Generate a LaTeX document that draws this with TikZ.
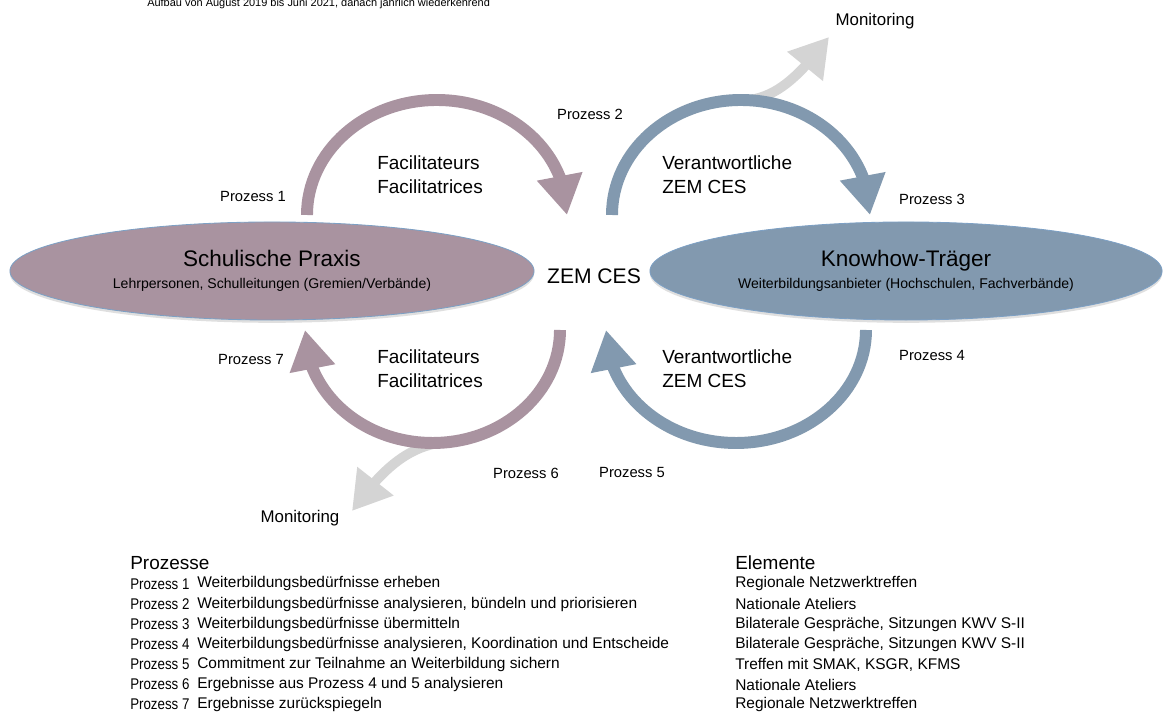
\documentclass[tikz,border=0pt]{standalone}
\usepackage{fontspec}
\setmainfont{Liberation Sans}
\usetikzlibrary{shapes.geometric, arrows.meta, bending, shadows}

\definecolor{praxis}{RGB}{169,147,160}
\definecolor{traeger}{RGB}{130,153,175}
\definecolor{monitor}{RGB}{212,212,212}
\definecolor{rand}{RGB}{125,160,196}

\begin{document}
\begin{tikzpicture}[
        x=0.025cm, y=0.025cm,
        pol/.style={
            % The shape:
            ellipse,
            % The size:
            minimum width=#1,
            minimum height=2.45cm,
            inner sep=0pt,
            % The border
            draw=rand,
            line width=.6pt,
            % Shadow
            drop shadow={opacity=.25, shadow xshift=0pt, shadow yshift=-2pt},
            % Font
            align=center,
            font=\fontsize{16}{19}\selectfont
        },
        bogen/.style={
            draw=#1,
            line width=8.5pt,
            -{Triangle[length=28pt, width=31pt]}
        },
        monitorpfeil/.style={
            draw=monitor,
            line width=7pt,
            -{Triangle[length=27pt, width=31pt]}
        },
        lbl/.style={inner sep=0pt, font=\fontsize{10.5}{12}\selectfont},
        rolle/.style={inner sep=0pt, anchor=west, align=left,
            font=\fontsize{13.5}{17}\selectfont},
        legende/.style={inner sep=0pt, anchor=west, font=\fontsize{11}{13}\selectfont},
        kopf/.style={inner sep=0pt, anchor=west, font=\fontsize{13.5}{16}\selectfont}
    ]

    \path[use as bounding box, fill=white] (0,0) rectangle (1164,714);

    \node[inner sep=0pt, anchor=base west, font=\fontsize{7.8}{9}\selectfont] (titel)
        at (147,707) {Aufbau von August 2019 bis Juni 2021, danach jährlich wiederkehrend};

    % the two poles
    \node[pol=13.1cm, fill=praxis] (praxis) at (272,443)
        {Schulische Praxis\\[-3pt]{\fontsize{10}{12}\selectfont Lehrpersonen, Schulleitungen (Gremien/Verbände)}};
    \node[pol=12.8cm, fill=traeger] (traeger) at (906,443)
        {Knowhow-Träger\\[-3pt]{\fontsize{10}{12}\selectfont Weiterbildungsanbieter (Hochschulen, Fachverbände)}};
    \node[inner sep=0pt, font=\fontsize{15}{18}\selectfont] (zem) at (594,438) {ZEM CES};

    % monitoring
    \coordinate (m1) at (736,613);
    \coordinate (m1end) at (829,677);
    \coordinate (m2) at (445,272);
    \coordinate (m2end) at (352,203);
    \draw[monitorpfeil] (m1) .. controls (772,613) and (795,632) .. (m1end);
    \draw[monitorpfeil] (m2) .. controls (408,268) and (382,245) .. (m2end);

    % the four arcs
    \coordinate (b1) at (307,499);
    \coordinate (b2) at (612,499);
    \coordinate (b4) at (866,384);
    \coordinate (b6) at (560,384);
    \draw[bogen=praxis] (b1) arc[start angle=180, end angle=0, x radius=130, y radius=115];
    \draw[bogen=traeger] (b2) arc[start angle=180, end angle=0, x radius=129, y radius=115];
    \draw[bogen=traeger] (b4) arc[start angle=0, end angle=-180, x radius=130, y radius=113];
    \draw[bogen=praxis] (b6) arc[start angle=0, end angle=-180, x radius=127.5, y radius=113];

    % labels
    \node[lbl] (p1) at (253,517) {Prozess 1};
    \node[lbl] (p2) at (590,600) {Prozess 2};
    \node[lbl] (p3) at (932,515) {Prozess 3};
    \node[lbl] (p4) at (932,358) {Prozess 4};
    \node[lbl] (p5) at (632,241) {Prozess 5};
    \node[lbl] (p6) at (526,241) {Prozess 6};
    \node[lbl] (p7) at (251,354) {Prozess 7};
    \node[inner sep=0pt, font=\fontsize{12}{14}\selectfont] (mon1) at (875,693) {Monitoring};
    \node[inner sep=0pt, font=\fontsize{12}{14}\selectfont] (mon2) at (300,196) {Monitoring};

    \node[rolle] (fac1) at (377,539) {Facilitateurs\\Facilitatrices};
    \node[rolle] (fac2) at (377,345) {Facilitateurs\\Facilitatrices};
    \node[rolle] (ver1) at (662,539) {Verantwortliche\\ZEM CES};
    \node[rolle] (ver2) at (662,345) {Verantwortliche\\ZEM CES};

    % legend
    \node[kopf] (prozesse) at (130,151) {Prozesse};
    \node[kopf] (elemente) at (735,151) {Elemente};
    \foreach \i/\ptext/\etext in {
        1/{Weiterbildungsbedürfnisse erheben}/{Regionale Netzwerktreffen},
        2/{Weiterbildungsbedürfnisse analysieren, bündeln und priorisieren}/{Nationale Ateliers},
        3/{Weiterbildungsbedürfnisse übermitteln}/{Bilaterale Gespräche, Sitzungen KWV S-II},
        4/{Weiterbildungsbedürfnisse analysieren, Koordination und Entscheide}/{Bilaterale Gespräche, Sitzungen KWV S-II},
        5/{Commitment zur Teilnahme an Weiterbildung sichern}/{Treffen mit SMAK, KSGR, KFMS},
        6/{Ergebnisse aus Prozess 4 und 5 analysieren}/{Nationale Ateliers},
        7/{Ergebnisse zurückspiegeln}/{Regionale Netzwerktreffen}}
    {
        \pgfmathsetmacro\yy{130-20.1*(\i-1)}
        \node[legende] (lp\i) at (130,\yy) {\scalebox{.86}[1]{Prozess \i}};
        \node[legende] (lt\i) at (197,\yy) {\ptext};
        \node[legende] (le\i) at (735,\yy) {\etext};
    }

\end{tikzpicture}
\end{document}
